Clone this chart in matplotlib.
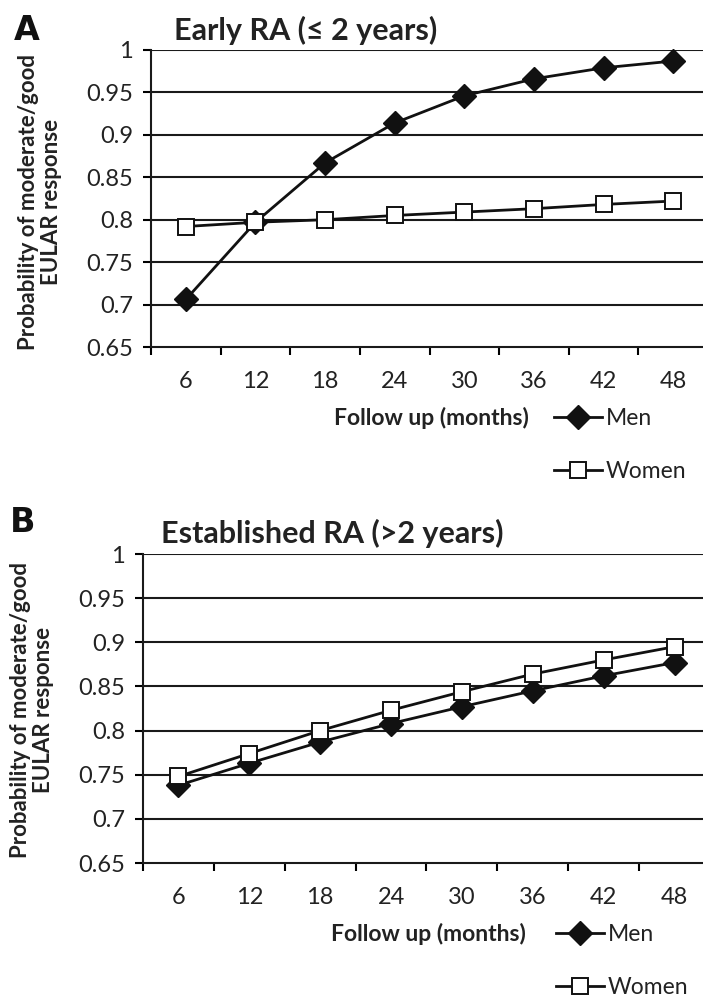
import matplotlib
matplotlib.use("Agg")
import matplotlib.pyplot as plt

months = ["6", "12", "18", "24", "30", "36", "42", "48"]
yticks = [0.65, 0.7, 0.75, 0.8, 0.85, 0.9, 0.95, 1.0]
ytick_labels = ["0.65", "0.7", "0.75", "0.8", "0.85", "0.9", "0.95", "1"]

early_men = [0.706, 0.797, 0.867, 0.914, 0.946, 0.966, 0.979, 0.987]
early_women = [0.792, 0.797, 0.800, 0.805, 0.809, 0.813, 0.818, 0.822]

est_men = [0.738, 0.763, 0.787, 0.808, 0.827, 0.845, 0.862, 0.877]
est_women = [0.748, 0.774, 0.800, 0.823, 0.844, 0.864, 0.880, 0.895]

titles = ["Early RA (\u2264 2 years)", "Established RA (>2 years)"]
panel_letters = ["A", "B"]
ylabel = "Probability of moderate/good\nEULAR response"
xlabel = "Follow up (months)"
series_names = ["Men", "Women"]

FONT = ["Lato", "DejaVu Sans"]
plt.rcParams["font.family"] = FONT

W, H = 703, 997
fig = plt.figure(figsize=(W / 100, H / 100), dpi=100)

def px_axes(left, top, right, bottom):
    return [left / W, 1 - bottom / H, (right - left) / W, (bottom - top) / H]

panels = [
    dict(rect=px_axes(151, 50, 708, 347), men=early_men, women=early_women,
         title_xy=(174, 30), letter_xy=(14, 30), ylab_xy=(40, 202),
         xlab_xy=(431, 418), leg_xy=(554, 408)),
    dict(rect=px_axes(143, 554, 710, 863), men=est_men, women=est_women,
         title_xy=(161, 533), letter_xy=(10, 522), ylab_xy=(32, 710),
         xlab_xy=(428, 934), leg_xy=(556, 924)),
]

lw = 2.0
for i, p in enumerate(panels):
    ax = fig.add_axes(p["rect"])
    x = list(range(1, len(months) + 1))
    ax.set_xlim(0.5, len(months) + 0.5)
    ax.set_ylim(0.65, 1.0)
    for yv in yticks[1:]:
        ax.axhline(yv, color="#1a1a1a", lw=1.5, zorder=1)
    l1, = ax.plot(x, p["men"], color="#111111", lw=lw, marker="D", markersize=12,
                  markerfacecolor="#111111", markeredgecolor="#111111", zorder=3,
                  clip_on=False)
    l2, = ax.plot(x, p["women"], color="#111111", lw=lw, marker="s", markersize=12,
                  markerfacecolor="white", markeredgecolor="#111111", markeredgewidth=1.4,
                  zorder=4, clip_on=False)
    for s in ["top", "right"]:
        ax.spines[s].set_visible(False)
    for s in ["left", "bottom"]:
        ax.spines[s].set_linewidth(1.5)
        ax.spines[s].set_color("#1a1a1a")
    ax.set_yticks(yticks)
    ax.set_yticklabels(ytick_labels, fontsize=17, color="#222222")
    ax.tick_params(axis="y", direction="out", length=6, width=1.5, pad=7)
    ax.set_xticks([k + 0.5 for k in range(0, len(months))])
    ax.set_xticklabels([])
    ax.tick_params(axis="x", which="major", direction="out", length=6, width=1.5)
    ax.set_xticks(x, minor=True)
    ax.set_xticklabels(months, minor=True, fontsize=17, color="#222222")
    ax.tick_params(axis="x", which="minor", length=0, pad=17)

    fig.text(p["title_xy"][0] / W, 1 - p["title_xy"][1] / H, titles[i],
             fontsize=22, fontweight="bold", color="#222222", ha="left", va="center")
    fig.text(p["letter_xy"][0] / W, 1 - p["letter_xy"][1] / H, panel_letters[i],
             fontsize=24, fontweight="bold", color="#111111", ha="left", va="center",
             family=["DejaVu Sans"])
    fig.text(p["ylab_xy"][0] / W, 1 - p["ylab_xy"][1] / H, ylabel, rotation=90,
             fontsize=16, fontweight="bold", color="#222222", ha="center", va="center",
             linespacing=1.15)
    fig.text(p["xlab_xy"][0] / W, 1 - p["xlab_xy"][1] / H, xlabel,
             fontsize=16.5, fontweight="bold", color="#222222", ha="center", va="center")
    fig.legend([l1, l2], series_names, loc="upper left",
               bbox_to_anchor=(p["leg_xy"][0] / W, 1 - p["leg_xy"][1] / H),
               frameon=False, fontsize=16.5, handlelength=2.1, handletextpad=0.15,
               labelspacing=1.4, borderpad=0, borderaxespad=0, labelcolor="#222222")

fig.savefig("out.png", dpi=100)
